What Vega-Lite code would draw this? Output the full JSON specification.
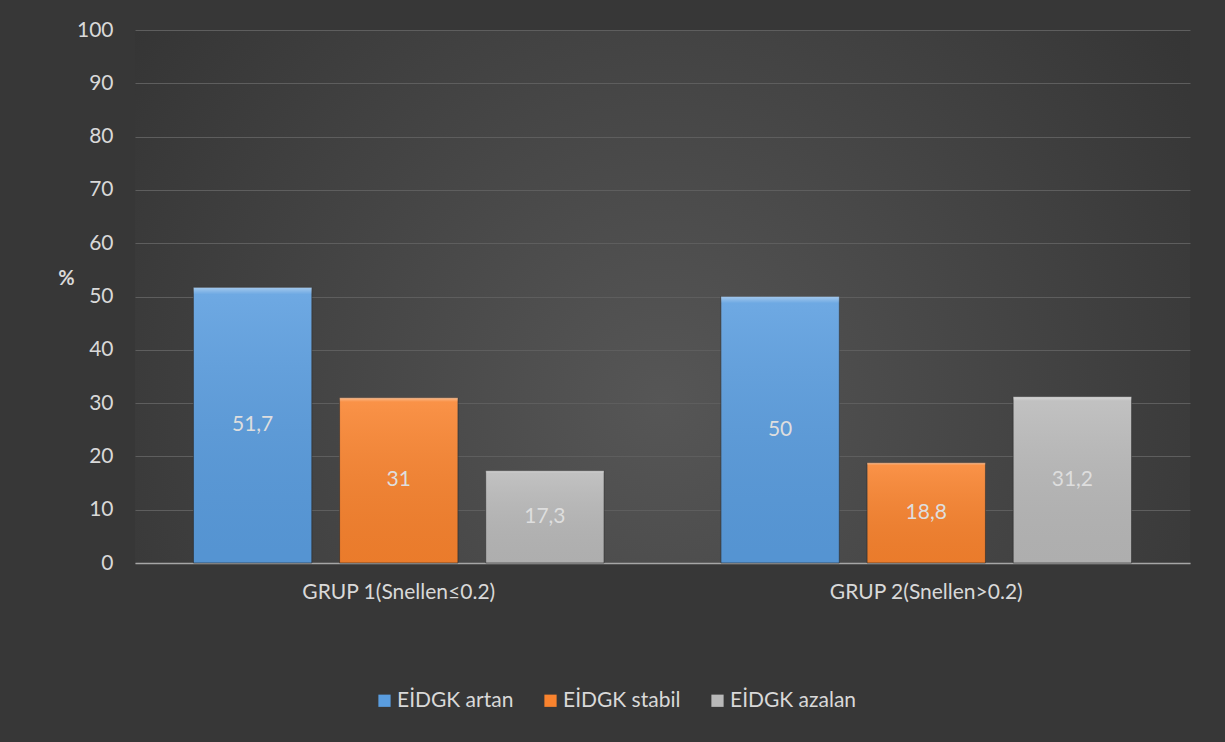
{
  "$schema": "https://vega.github.io/schema/vega-lite/v6.json",
  "width": 1055,
  "height": 533,
  "autosize": {"type": "none"},
  "padding": {"left": 135, "top": 30, "right": 35, "bottom": 179},
  "background": "#373737",
  "view": {
    "stroke": null,
    "fill": {
      "gradient": "radial",
      "x1": 0.5, "y1": 0.6, "r1": 0,
      "x2": 0.5, "y2": 0.6, "r2": 0.8,
      "stops": [
        {"offset": 0, "color": "#565656"},
        {"offset": 1, "color": "#2b2b2b"}
      ]
    }
  },
  "config": {
    "font": "Lato",
    "locale": {
      "number": {"decimal": ",", "thousands": ".", "grouping": [3], "currency": ["", " TL"]}
    }
  },
  "data": {
    "values": [
      {"grup": "GRUP 1(Snellen≤0.2)", "seri": "EİDGK artan", "v": 51.7},
      {"grup": "GRUP 1(Snellen≤0.2)", "seri": "EİDGK stabil", "v": 31},
      {"grup": "GRUP 1(Snellen≤0.2)", "seri": "EİDGK azalan", "v": 17.3},
      {"grup": "GRUP 2(Snellen>0.2)", "seri": "EİDGK artan", "v": 50},
      {"grup": "GRUP 2(Snellen>0.2)", "seri": "EİDGK stabil", "v": 18.8},
      {"grup": "GRUP 2(Snellen>0.2)", "seri": "EİDGK azalan", "v": 31.2}
    ]
  },
  "encoding": {
    "x": {
      "field": "grup", "type": "nominal", "sort": null,
      "scale": {"paddingInner": 0, "paddingOuter": 0},
      "axis": {
        "title": null, "labelAngle": 0, "labelFontSize": 21, "labelColor": "#d9d9d9",
        "labelPadding": 18, "labelLimit": 0, "ticks": false, "domain": true, "domainColor": "#a6a6a6",
        "domainWidth": 1.5, "grid": false
      }
    },
    "xOffset": {
      "field": "seri", "type": "nominal",
      "sort": ["EİDGK artan", "EİDGK stabil", "EİDGK azalan"],
      "scale": {"paddingInner": 0.19, "paddingOuter": 0.4}
    }
  },
  "layer": [
    {
      "mark": {"type": "bar", "stroke": "#2a2a2a", "strokeWidth": 1, "strokeOpacity": 0.6},
      "encoding": {
        "y": {
          "field": "v", "type": "quantitative",
          "scale": {"domain": [0, 100]},
          "axis": {
            "values": [0, 10, 20, 30, 40, 50, 60, 70, 80, 90, 100],
            "title": "%", "titleAngle": 0, "titleX": -69, "titleY": 248,
            "titleAlign": "center", "titleBaseline": "middle",
            "titleFontSize": 20, "titleFontWeight": "bold", "titleColor": "#d9d9d9",
            "labelFontSize": 21, "labelColor": "#d9d9d9", "labelPadding": 22,
            "ticks": false, "domain": false,
            "grid": true, "gridColor": "#5e5e5e", "gridWidth": 1.2
          }
        },
        "color": {
          "field": "seri", "type": "nominal",
          "sort": ["EİDGK artan", "EİDGK stabil", "EİDGK azalan"],
          "scale": {"range": ["#5a9ddf", "#f9832e", "#b9b9b9"]},
          "legend": {
            "title": null, "orient": "none", "direction": "horizontal",
            "legendX": 239, "legendY": 660,
            "symbolType": "square", "symbolSize": 150, "symbolStrokeWidth": 0,
            "labelFontSize": 21, "labelColor": "#d9d9d9", "labelOffset": 2,
            "columnPadding": 26
          }
        }
      }
    },
    {
      "mark": {
        "type": "bar",
        "color": {
          "gradient": "linear", "x1": 0, "y1": 0, "x2": 0, "y2": 1,
          "stops": [
            {"offset": 0, "color": "rgba(255,255,255,0.45)"},
            {"offset": 0.025, "color": "rgba(255,255,255,0.12)"},
            {"offset": 1, "color": "rgba(0,0,0,0.06)"}
          ]
        }
      },
      "encoding": {
        "y": {"field": "v", "type": "quantitative"}
      }
    },
    {
      "transform": [{"calculate": "datum.v / 2", "as": "mid"}],
      "mark": {"type": "text", "fontSize": 21, "color": "#dedede", "baseline": "middle"},
      "encoding": {
        "y": {"field": "mid", "type": "quantitative"},
        "text": {"field": "v", "type": "quantitative", "format": ".1~f"}
      }
    }
  ]
}
